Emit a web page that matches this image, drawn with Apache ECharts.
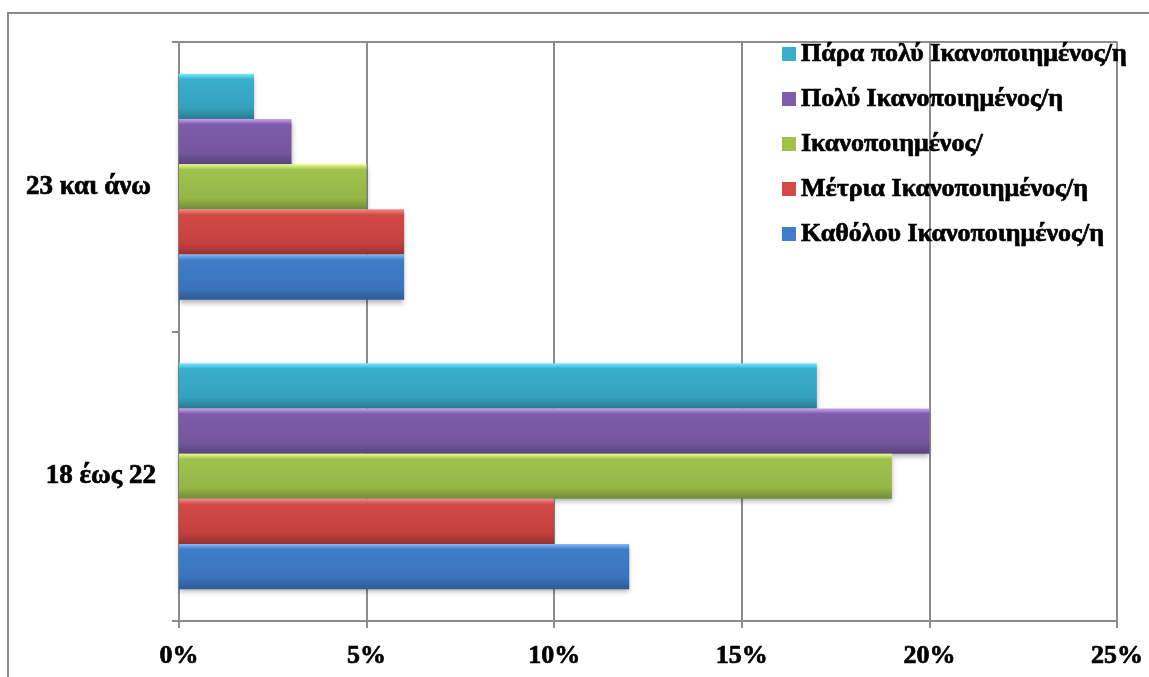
<!DOCTYPE html>
<html>
<head>
<meta charset="utf-8">
<script src="https://cdn.jsdelivr.net/npm/echarts@6/dist/echarts.min.js"></script>
<style>
html,body{margin:0;padding:0;background:#fff;}
#frame{position:absolute;left:7px;top:12px;width:1160px;height:700px;border-left:2px solid #8c8c8c;border-top:2px solid #8c8c8c;}
#chart{position:absolute;left:0;top:0;width:1149px;height:677px;}
</style>
</head>
<body>
<div id="frame"></div>
<div id="chart"></div>
<script>
const categories = ['18 έως 22', '23 και άνω'];
const seriesNames = ['Καθόλου Ικανοποιημένος/η', 'Μέτρια Ικανοποιημένος/η', 'Ικανοποιημένος/', 'Πολύ Ικανοποιημένος/η', 'Πάρα πολύ Ικανοποιημένος/η'];
const katholou = [12, 6];
const metria = [10, 6];
const ikanopoiimenos = [19, 5];
const poly = [20, 3];
const parapoly = [17, 2];
const xTicks = [0, 5, 10, 15, 20, 25];

const values = [katholou, metria, ikanopoiimenos, poly, parapoly];
const palettes = [
  ['#8ab8f0', '#3f7dc8', '#3a73bb', '#2d5b96'],
  ['#f08a88', '#d24a46', '#c5403d', '#963330'],
  ['#eaff8a', '#9fc24d', '#95b648', '#718c37'],
  ['#c9a2f0', '#7d5ca8', '#74569e', '#5b437e'],
  ['#78eaff', '#3aaecc', '#34a2bf', '#2a7a90']
];
function grad(p){
  return new echarts.graphic.LinearGradient(0,0,0,1,[
    {offset:0, color:p[0]},
    {offset:0.12, color:p[1]},
    {offset:0.75, color:p[2]},
    {offset:1, color:p[3]}
  ]);
}
const font = 'Liberation Serif';
const boldText = {fontFamily:font, fontWeight:700, color:'#000', textBorderColor:'#000', textBorderWidth:0.7};
const chart = echarts.init(document.getElementById('chart'));
const order = [4, 3, 2, 1, 0];
chart.setOption({
  animation:false,
  backgroundColor:'transparent',
  grid:{left:179, right:32, top:42, bottom:56, containLabel:false},
  legend:{
    orient:'vertical', left:777, top:35,
    data: seriesNames.slice().reverse().map((n,k)=>({name:n, itemStyle:{color:palettes[4-k][1]}})),
    itemWidth:14, itemHeight:14, itemGap:17, icon:'rect',
    textStyle:Object.assign({fontSize:26, lineHeight:28}, boldText)
  },
  xAxis:[{
    type:'value', min:0, max:25, interval:5,
    axisLine:{show:true, lineStyle:{color:'#8c8c8c', width:2}},
    axisTick:{show:true, length:7, lineStyle:{color:'#8c8c8c', width:2}},
    splitLine:{show:true, lineStyle:{color:'#8c8c8c', width:2}},
    axisLabel:Object.assign({margin:22, formatter: v => xTicks.includes(v) ? v + '%' : '', fontSize:26}, boldText)
  },{
    type:'value', position:'top', min:0, max:25, interval:5,
    axisLine:{show:true, lineStyle:{color:'#8c8c8c', width:2}},
    axisTick:{show:false}, axisLabel:{show:false}, splitLine:{show:false}
  }],
  yAxis:{
    type:'category', data:categories,
    axisLine:{show:true, lineStyle:{color:'#8c8c8c', width:2}},
    axisTick:{show:true, length:7, lineStyle:{color:'#8c8c8c', width:2}},
    axisLabel:Object.assign({margin:23, fontSize:27,
      formatter: (v, i) => i === 1 ? '{b|' + v + '}' : v,
      rich:{b:Object.assign({fontSize:27, padding:[0,5,0,0]}, boldText)}
    }, boldText)
  },
  series: order.map(i => ({
    name:seriesNames[i], type:'bar', xAxisIndex:0, data:values[i],
    barGap:'0%', barCategoryGap:'22%',
    itemStyle:{color:grad(palettes[i]), shadowBlur:5, shadowOffsetY:3, shadowColor:'rgba(0,0,0,0.3)'}
  }))
});
</script>
</body>
</html>
